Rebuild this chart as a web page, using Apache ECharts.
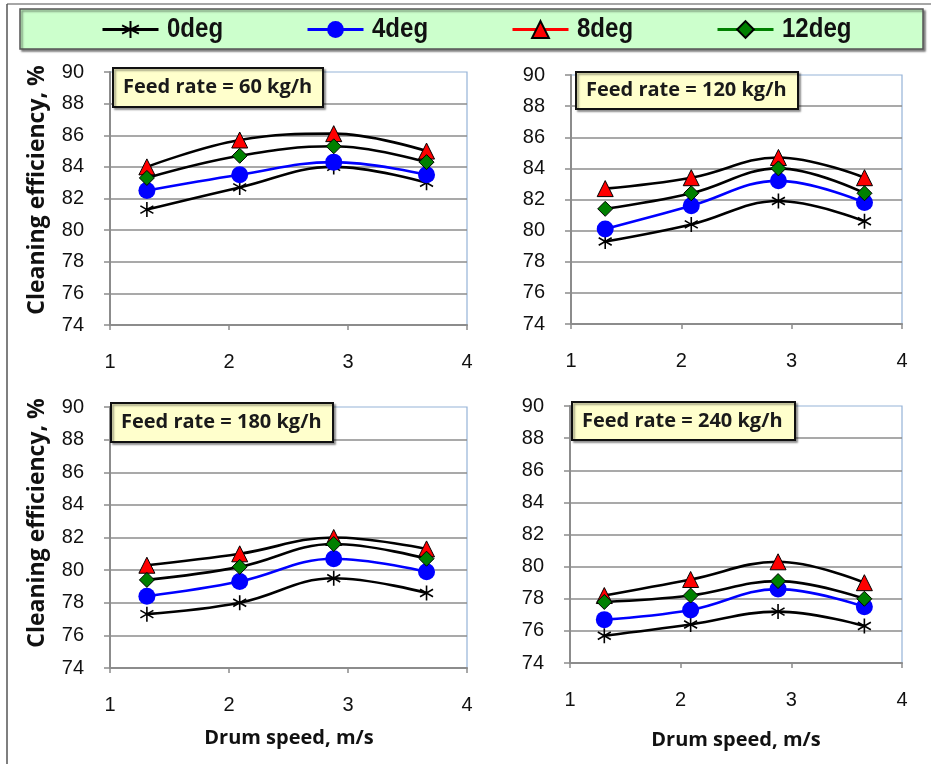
<!DOCTYPE html>
<html>
<head>
<meta charset="utf-8">
<script src="https://cdn.jsdelivr.net/npm/echarts@6/dist/echarts.min.js"></script>
<style>html,body{margin:0;padding:0;background:#fff;}#c{width:931px;height:764px;}</style>
</head>
<body>
<div id="c"></div>
<script>
// ---- data ----
const drumSpeed = [1.31, 2.09, 2.88, 3.66];           // m/s
const seriesNames = ['0deg', '4deg', '8deg', '12deg'];
const feedRates = ['60', '120', '180', '240'];          // kg/h
const yTicks = [74, 76, 78, 80, 82, 84, 86, 88, 90];
const xTicks = [1, 2, 3, 4];

// Feed rate 60 kg/h
const fr60_0deg  = [81.3, 82.7, 84.0, 83.0];
const fr60_4deg  = [82.5, 83.5, 84.3, 83.5];
const fr60_8deg  = [84.0, 85.7, 86.1, 85.0];
const fr60_12deg = [83.3, 84.7, 85.3, 84.3];
// Feed rate 120 kg/h
const fr120_0deg  = [79.3, 80.4, 81.9, 80.6];
const fr120_4deg  = [80.1, 81.6, 83.2, 81.8];
const fr120_8deg  = [82.7, 83.4, 84.7, 83.4];
const fr120_12deg = [81.4, 82.4, 84.0, 82.4];
// Feed rate 180 kg/h
const fr180_0deg  = [77.3, 78.0, 79.5, 78.6];
const fr180_4deg  = [78.4, 79.3, 80.7, 79.9];
const fr180_8deg  = [80.3, 81.0, 82.0, 81.3];
const fr180_12deg = [79.4, 80.2, 81.6, 80.7];
// Feed rate 240 kg/h
const fr240_0deg  = [75.7, 76.4, 77.2, 76.3];
const fr240_4deg  = [76.7, 77.3, 78.6, 77.5];
const fr240_8deg  = [78.2, 79.2, 80.3, 79.0];
const fr240_12deg = [77.8, 78.2, 79.1, 78.0];

const panelData = [
  [fr60_0deg, fr60_4deg, fr60_8deg, fr60_12deg],
  [fr120_0deg, fr120_4deg, fr120_8deg, fr120_12deg],
  [fr180_0deg, fr180_4deg, fr180_8deg, fr180_12deg],
  [fr240_0deg, fr240_4deg, fr240_8deg, fr240_12deg]
];

// ---- layout / style ----
const grids = [
  {left: 110, top: 72,  width: 357, height: 253},
  {left: 571, top: 75,  width: 331, height: 249},
  {left: 110, top: 407, width: 357, height: 261},
  {left: 570, top: 406, width: 332, height: 257}
];
const boxes = [
  {x: 113, y: 68,  w: 210, h: 39},
  {x: 576, y: 72,  w: 222, h: 37},
  {x: 111, y: 403, w: 222, h: 39},
  {x: 572, y: 402, w: 223, h: 38}
];
const asterisk = 'path://M5,0L5,10M0.67,2.5L9.33,7.5M0.67,7.5L9.33,2.5';
const styles = [
  {symbol: asterisk, size: 15, color: '#000', line: '#000', border: '#000', bw: 1.6},
  {symbol: 'circle', size: 17, color: '#0000ff', line: '#0000ff', border: '#0000ff', bw: 0},
  {symbol: 'triangle', size: 16, color: '#ff0000', line: '#000', border: '#000', bw: 1},
  {symbol: 'diamond', size: 15, color: '#008000', line: '#000', border: '#000', bw: 1}
];
const legendLineColors = ['#000', '#0000ff', '#ff0000', '#008000'];
const legendLeft = [101, 306, 511, 716];
const legendIconW = 56;
const gray = '#8c8c8c';
const titleFont = "'Open Sans', 'Noto Sans', sans-serif";
const tickFont = "'Liberation Sans', Arial, sans-serif";

const chart = echarts.init(document.getElementById('c'), null, {renderer: 'canvas'});

const xAxis = [], yAxis = [], series = [];
grids.forEach((g, p) => {
  xAxis.push({
    type: 'value', gridIndex: p, min: xTicks[0], max: xTicks[xTicks.length - 1], interval: 1,
    axisLine: {show: true, lineStyle: {color: gray, width: 2}},
    axisTick: {show: true, length: 5, lineStyle: {color: gray, width: 1.5}},
    splitLine: {show: false},
    axisLabel: {margin: 27, color: '#111', fontSize: 20, fontFamily: tickFont}
  });
  yAxis.push({
    type: 'value', gridIndex: p, min: yTicks[0], max: yTicks[yTicks.length - 1], interval: 2,
    axisLine: {show: true, lineStyle: {color: gray, width: 2}},
    axisTick: {show: true, length: 6, inside: false, lineStyle: {color: gray, width: 1.5}},
    splitLine: {show: true, showMaxLine: false, lineStyle: {color: gray, width: 1.6}},
    axisLabel: {margin: 26, color: '#111', fontSize: 20, fontFamily: tickFont}
  });
  panelData[p].forEach((arr, s) => {
    const st = styles[s];
    series.push({
      name: seriesNames[s], type: 'line', xAxisIndex: p, yAxisIndex: p,
      data: drumSpeed.map((x, i) => [x, arr[i]]),
      smooth: 0.4,
      symbol: st.symbol, symbolSize: st.size, symbolKeepAspect: true,
      itemStyle: {color: st.color, borderColor: st.border, borderWidth: st.bw},
      lineStyle: {color: st.line, width: 2.6},
      emphasis: {disabled: true},
      z: 2 + s
    });
  });
});

const graphic = [
  // outer frame
  {type: 'line', shape: {x1: 7, y1: 4, x2: 931, y2: 4}, style: {stroke: '#888', lineWidth: 1.5}, z: 0},
  {type: 'line', shape: {x1: 7, y1: 4, x2: 7, y2: 764}, style: {stroke: '#555', lineWidth: 1.5}, z: 0},
  // legend box
  {type: 'rect', shape: {x: 20, y: 9, width: 903, height: 40},
   style: {fill: '#ccffcc', stroke: '#555', lineWidth: 1.5, shadowColor: 'rgba(0,0,0,0.45)', shadowOffsetX: 2, shadowOffsetY: 2, shadowBlur: 2}, z: 0},
  // y titles
  {type: 'text', x: 37, y: 190, rotation: Math.PI / 2,
   style: {text: 'Cleaning efficiency, %', font: "bold 23px " + titleFont, fill: '#111', align: 'center', verticalAlign: 'middle'}, z: 10},
  {type: 'text', x: 37, y: 523, rotation: Math.PI / 2,
   style: {text: 'Cleaning efficiency, %', font: "bold 23px " + titleFont, fill: '#111', align: 'center', verticalAlign: 'middle'}, z: 10},
  // x titles
  {type: 'text', x: 289, y: 738,
   style: {text: 'Drum speed, m/s', font: "bold 20px " + titleFont, fill: '#111', align: 'center', verticalAlign: 'middle'}, z: 10},
  {type: 'text', x: 736, y: 740,
   style: {text: 'Drum speed, m/s', font: "bold 20px " + titleFont, fill: '#111', align: 'center', verticalAlign: 'middle'}, z: 10}
];
// legend labels (narrow bold)
seriesNames.forEach((n, i) => {
  graphic.push({type: 'text', x: legendLeft[i] + legendIconW + 10, y: 30, scaleX: 0.89,
    style: {text: n, font: "bold 27px " + tickFont, fill: '#111', align: 'left', verticalAlign: 'middle'}, z: 30});
});
boxes.forEach((b, p) => {
  graphic.push({type: 'rect', shape: {x: b.x, y: b.y, width: b.w, height: b.h},
    style: {fill: '#ffffcc', stroke: '#111', lineWidth: 2, shadowColor: 'rgba(0,0,0,0.35)', shadowOffsetX: 2, shadowOffsetY: 2, shadowBlur: 2}, z: 20});
  graphic.push({type: 'text', x: b.x + 10, y: b.y + b.h / 2,
    style: {text: 'Feed rate = ' + feedRates[p] + ' kg/h', font: "bold 20px " + titleFont, fill: '#1a1a1a', align: 'left', verticalAlign: 'middle'}, z: 21});
});

const legend = seriesNames.map((n, i) => ({
  data: [{name: n, lineStyle: {color: legendLineColors[i], width: 3}}],
  left: legendLeft[i], top: 19, padding: 0, itemGap: 0,
  itemWidth: legendIconW, itemHeight: 21, selectedMode: false,
  formatter: () => '',
  textStyle: {fontSize: 12}
}));

chart.setOption({
  animation: false,
  backgroundColor: '#fff',
  grid: grids.map(g => Object.assign({show: true, borderColor: '#95b3d7', borderWidth: 1.2, backgroundColor: 'transparent', containLabel: false}, g)),
  xAxis, yAxis, series, legend, graphic
});
</script>
</body>
</html>
